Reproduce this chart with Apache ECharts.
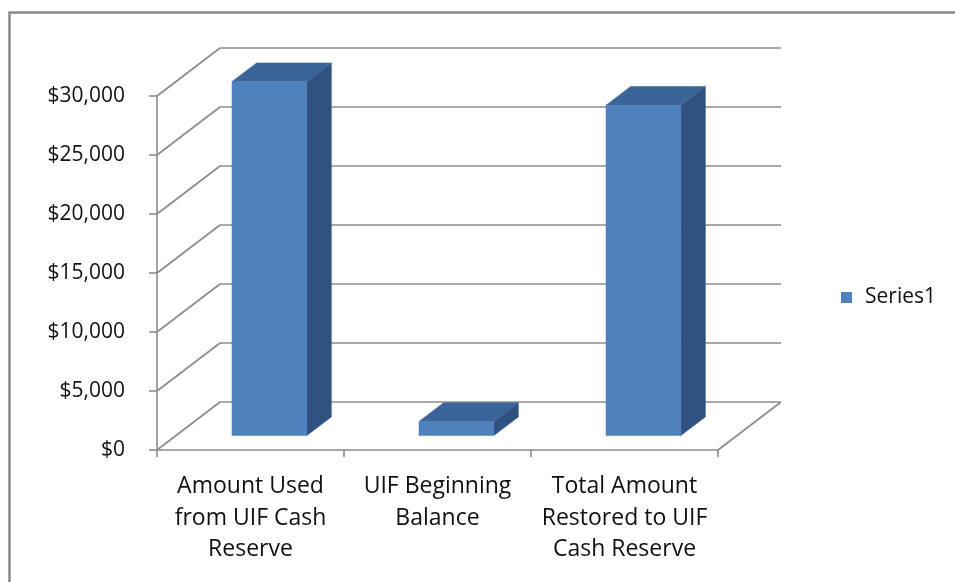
<!DOCTYPE html>
<html>
<head>
<meta charset="utf-8">
<script src="https://cdn.jsdelivr.net/npm/echarts@6/dist/echarts.min.js"></script>
<style>
html,body{margin:0;padding:0;background:#fff;}
#chart{width:955px;height:582px;}
</style>
</head>
<body>
<div id="chart"></div>
<script>
// ---- data ----
const categories = ["Amount Used\nfrom UIF Cash\nReserve", "UIF Beginning\nBalance", "Total Amount\nRestored to UIF\nCash Reserve"];
const seriesName = "Series1";
const values = [30000, 1200, 28000];
const yTicks = [0, 5000, 10000, 15000, 20000, 25000, 30000];

// ---- style / layout constants ----
const DX = 63, DY = -48;          // depth offset of back wall
const F0 = 0.3, F1 = 0.69;        // bar depth range (fraction of depth)
const BAR_FRAC = 0.4;             // bar width as fraction of category band
const FONT = "Open Sans";
const GRID_COLOR = "#8c8c8c";

const chart = echarts.init(document.getElementById('chart'));

function wallRender(params, api) {
  const cs = params.coordSys;
  const v = api.value(1);
  const y = api.coord([0, v])[1];
  const L = cs.x, R = cs.x + cs.width;
  const st = {stroke: GRID_COLOR, lineWidth: 1.6};
  const children = [
    {type: 'line', shape: {x1: L, y1: y, x2: L + DX, y2: y + DY}, style: st},
    {type: 'line', shape: {x1: L + DX, y1: y + DY, x2: R + DX, y2: y + DY}, style: st}
  ];
  if (v === 0) {
    children.push({type: 'line', shape: {x1: R, y1: y, x2: R + DX, y2: y + DY}, style: st});
  }
  return {type: 'group', children: children};
}

function barRender(params, api) {
  const idx = api.value(0), val = api.value(1);
  const base = api.coord([idx, 0]);
  const top = api.coord([idx, val]);
  const band = api.size([1, 0])[0];
  const bw = band * BAR_FRAC;
  const x0 = base[0] - bw / 2 + F0 * DX;
  const yb = base[1] + F0 * DY;
  const yt = top[1] + F0 * DY;
  const dX = (F1 - F0) * DX, dY = (F1 - F0) * DY;
  return {
    type: 'group',
    children: [
      {type: 'polygon', shape: {points: [[x0 + bw, yt], [x0 + bw + dX, yt + dY], [x0 + bw + dX, yb + dY], [x0 + bw, yb]]},
        style: {fill: '#2f5281', stroke: '#2f5281', lineWidth: 0.5}},
      {type: 'polygon', shape: {points: [[x0, yt], [x0 + bw, yt], [x0 + bw + dX, yt + dY], [x0 + dX, yt + dY]]},
        style: {fill: '#3b6598', stroke: '#3b6598', lineWidth: 0.5}},
      {type: 'rect', shape: {x: x0, y: yt, width: bw, height: yb - yt},
        style: {fill: '#4f81bd', stroke: '#4a7bb6', lineWidth: 0.5}}
    ]
  };
}

const option = {
  backgroundColor: '#ffffff',
  animation: false,
  textStyle: {fontFamily: FONT},
  graphic: [{
    type: 'rect', left: 7, top: 10, shape: {width: 1000, height: 700},
    style: {fill: 'none', stroke: '#8a8a8a', lineWidth: 2.5}, z: 100
  }],
  legend: {
    data: [seriesName],
    left: 841, top: 287, padding: 0,
    itemWidth: 11, itemHeight: 11,
    icon: 'rect',
    textStyle: {fontFamily: FONT, fontSize: 21, color: '#111', padding: [0, 0, 0, 8]}
  },
  grid: {left: 157, right: 955 - 718, top: 96, bottom: 582 - 450, containLabel: false},
  xAxis: {
    type: 'category',
    data: categories,
    boundaryGap: true,
    axisLine: {show: true, lineStyle: {color: GRID_COLOR, width: 1.6}},
    axisTick: {show: true, length: 7, alignWithLabel: false, lineStyle: {color: GRID_COLOR, width: 1.6}},
    axisLabel: {margin: 21, fontFamily: FONT, fontSize: 23, color: '#111', lineHeight: 31.5, interval: 0}
  },
  yAxis: {
    type: 'value',
    min: 0, max: 30000, interval: 5000,
    axisLine: {show: true, lineStyle: {color: GRID_COLOR, width: 1.6}},
    axisTick: {show: true, length: 8, lineStyle: {color: GRID_COLOR, width: 1.6}},
    splitLine: {show: false},
    axisLabel: {
      margin: 32, fontFamily: FONT, fontSize: 21, color: '#111',
      formatter: function (v) { return '$' + v.toLocaleString('en-US'); }
    }
  },
  series: [
    {
      name: 'walls', type: 'custom', renderItem: wallRender,
      data: yTicks.map(v => [0, v]), silent: true, z: 1
    },
    {
      name: seriesName, type: 'custom', renderItem: barRender,
      itemStyle: {color: '#4f81bd'},
      data: values.map((v, i) => [i, v]), z: 5
    }
  ]
};
chart.setOption(option);
</script>
</body>
</html>
